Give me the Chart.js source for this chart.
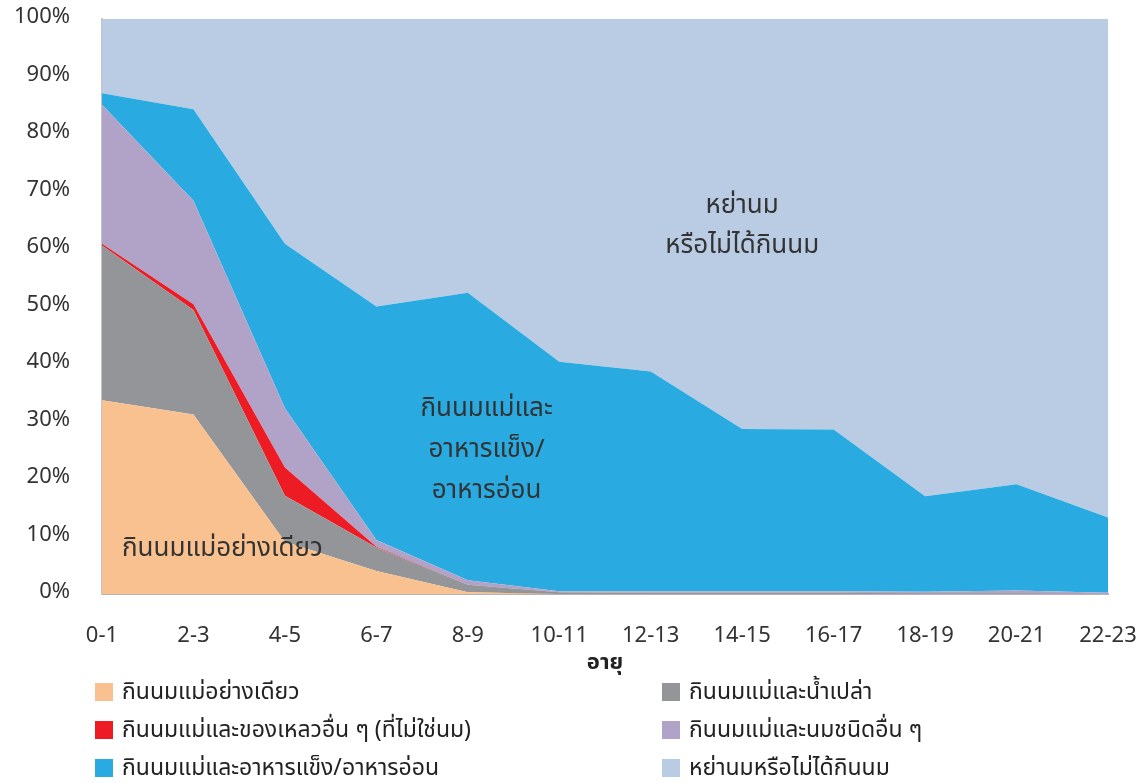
<!DOCTYPE html>
<html>
<head>
<meta charset="utf-8">
<script src="https://cdn.jsdelivr.net/npm/chart.js@4.4.1/dist/chart.umd.min.js"></script>
<style>
  html, body { margin: 0; padding: 0; background: #fff; }
  body { width: 1144px; height: 783px; position: relative; overflow: hidden;
         font-family: "Noto Sans Thai", "Liberation Sans Narrow", "DejaVu Sans", sans-serif; }
  #wrap { position: absolute; left: 0; top: 0; width: 1144px; height: 680px; }
  #legend { position: absolute; left: 95px; top: 675px; width: 1040px; }
  .item { position: absolute; display: flex; align-items: center; font-size: 23px; color: #222; white-space: nowrap; }
  .box { width: 18px; height: 18px; margin-right: 9px; }
</style>
</head>
<body>
<div id="wrap"><canvas id="chart"></canvas></div>
<div id="legend"></div>
<script>
// age groups (months)
const ages = ["0-1", "2-3", "4-5", "6-7", "8-9", "10-11", "12-13", "14-15", "16-17", "18-19", "20-21", "22-23"];

// percent of infants in each feeding group
const exclusive  = [33.7, 31.2, 9.1, 4.0, 0.3, 0, 0, 0, 0, 0, 0, 0];
const water      = [26.9, 18.2, 8.0, 4.1, 1.3, 0.3, 0.2, 0.2, 0.2, 0.1, 0.1, 0];
const liquids    = [0.3, 1.0, 4.9, 0.1, 0, 0, 0, 0, 0, 0, 0, 0];
const otherMilk  = [24.2, 18.0, 10.3, 1.2, 0.8, 0.2, 0.3, 0.3, 0.3, 0.3, 0.5, 0.2];
const solids     = [2.0, 15.9, 28.6, 40.6, 50.0, 39.9, 38.2, 28.2, 28.1, 16.6, 18.5, 13.1];
const weaned     = [12.9, 15.7, 39.1, 50.0, 47.6, 59.6, 61.3, 71.3, 71.4, 83.0, 80.9, 86.7];

const yTicks = [0, 10, 20, 30, 40, 50, 60, 70, 80, 90, 100];

const seriesNames = [
  "กินนมแม่อย่างเดียว",
  "กินนมแม่และน้ำเปล่า",
  "กินนมแม่และของเหลวอื่น ๆ (ที่ไม่ใช่นม)",
  "กินนมแม่และนมชนิดอื่น ๆ",
  "กินนมแม่และอาหารแข็ง/อาหารอ่อน",
  "หย่านมหรือไม่ได้กินนม"
];
const seriesData = [exclusive, water, liquids, otherMilk, solids, weaned];
const colors = ["#F8C18F", "#939598", "#ED1C24", "#B1A3C8", "#29ABE2", "#B9CCE4"];

const FONT = '"Noto Sans Thai", "Liberation Sans Narrow", "DejaVu Sans", sans-serif';

var datasets = seriesData.map(function (d, i) {
  return {
    label: seriesNames[i],
    data: d,
    backgroundColor: colors[i],
    borderWidth: 0,
    pointRadius: 0,
    fill: i === 0 ? "origin" : "-1",
    tension: 0
  };
});

// text labels drawn inside the areas
const areaLabels = {
  id: "areaLabels",
  afterDatasetsDraw(chart) {
    const ctx = chart.ctx;
    const x = chart.scales.x, y = chart.scales.y;
    ctx.save();
    ctx.fillStyle = "#333";
    ctx.font = "26px " + FONT;
    ctx.textAlign = "center";
    ctx.textBaseline = "middle";
    ctx.fillText("หย่านม", x.getPixelForValue(7), y.getPixelForValue(67.2));
    ctx.fillText("หรือไม่ได้กินนม", x.getPixelForValue(7), y.getPixelForValue(60.2));
    var cx = (x.getPixelForValue(4) + x.getPixelForValue(5)) / 2 - 27;
    ctx.fillText("กินนมแม่และ", cx, y.getPixelForValue(31.8));
    ctx.fillText("อาหารแข็ง/", cx, y.getPixelForValue(24.7));
    ctx.fillText("อาหารอ่อน", cx, y.getPixelForValue(17.6));
    ctx.textAlign = "left";
    ctx.fillText("กินนมแม่อย่างเดียว", x.getPixelForValue(0) + 20, y.getPixelForValue(7.5));
    ctx.restore();
  }
};

new Chart(document.getElementById("chart"), {
  type: "line",
  data: { labels: ages, datasets: datasets },
  plugins: [areaLabels],
  options: {
    responsive: true,
    maintainAspectRatio: false,
    animation: false,
    layout: { padding: { top: 19, right: 36, left: 0, bottom: 0 } },
    plugins: { legend: { display: false }, tooltip: { enabled: false } },
    scales: {
      x: {
        offset: false,
        afterFit: function (s) { s.height = 86; s.paddingLeft = 0; s.paddingRight = 0; },
        grid: { display: false, drawOnChartArea: false, tickLength: 8, color: "#A0A0A0" },
        border: { color: "#B4B4B4", width: 2 },
        ticks: { color: "#333", font: { size: 22, family: FONT }, padding: 22, maxRotation: 0, autoSkip: false },
        title: { display: true, text: "อายุ", color: "#222", font: { size: 22, weight: "bold", family: FONT }, padding: { top: 0, bottom: 2 } }
      },
      y: {
        stacked: true,
        min: 0,
        max: 100,
        afterFit: function (s) { s.width = 102; s.paddingTop = 0; s.paddingBottom = 0; },
        afterBuildTicks: function (s) { s.ticks = yTicks.map(function (v) { return { value: v }; }); },
        grid: { display: false, drawTicks: false },
        border: { color: "#C4C4C4", width: 2 },
        ticks: { color: "#333", font: { size: 22, family: FONT }, padding: 32, callback: function (v) { return v + "%"; } }
      }
    }
  }
});

// two-column legend under the chart
var legend = document.getElementById("legend");
seriesNames.forEach(function (name, i) {
  var el = document.createElement("div");
  el.className = "item";
  el.style.left = (i % 2 === 0 ? 0 : 567) + "px";
  el.style.top = (Math.floor(i / 2) * 38) + "px";
  el.innerHTML = '<span class="box" style="background:' + colors[i] + '"></span>' + name;
  legend.appendChild(el);
});
</script>
</body>
</html>
